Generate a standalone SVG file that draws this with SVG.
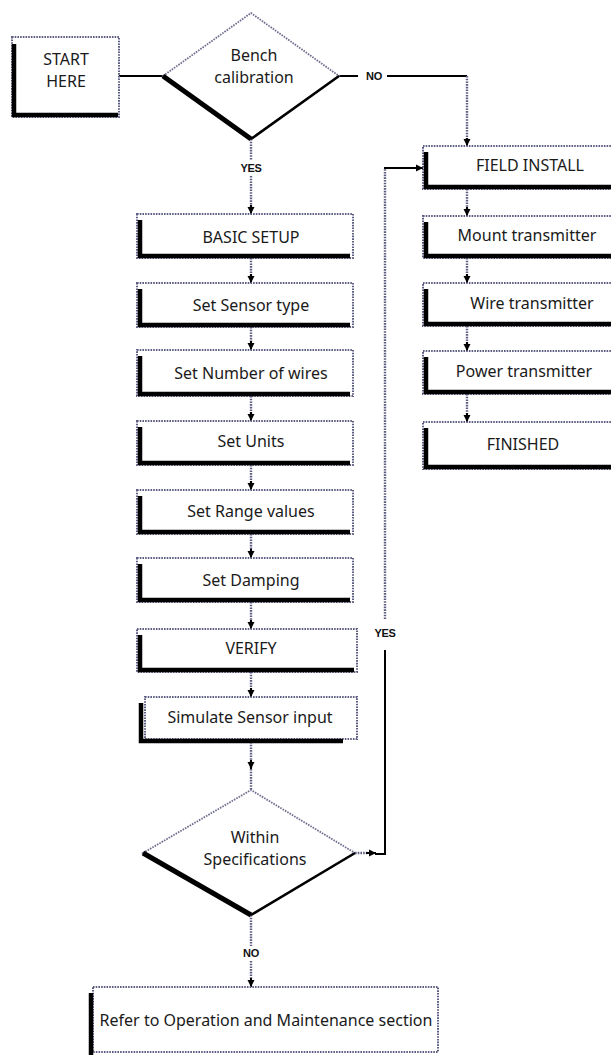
<svg xmlns="http://www.w3.org/2000/svg" width="611" height="1055" viewBox="0 0 611 1055">
<style>
.box{fill:#fff;stroke:#5e5e82;stroke-width:2;stroke-dasharray:1.6 1.1}
.sh{fill:none;stroke:#000;stroke-width:4.5}
.dia{fill:#fff;stroke:#6e6e8e;stroke-width:1.8;stroke-dasharray:1.6 1.1}
.dot{fill:none;stroke:#5e5e82;stroke-width:2.4;stroke-dasharray:1.6 1.1}
.sol{fill:none;stroke:#000;stroke-width:2}
.t{font-family:"Noto Sans","Open Sans",sans-serif;font-size:16px;fill:#1a1a1a;text-anchor:middle;dominant-baseline:central}
.lbl{font-family:"Liberation Sans",Arial,sans-serif;font-weight:bold;font-size:11px;fill:#111;text-anchor:middle;dominant-baseline:central;letter-spacing:-0.3px}
</style>
<defs>
<marker id="ah" markerUnits="userSpaceOnUse" markerWidth="8" markerHeight="8" refX="7" refY="4" orient="auto">
<path d="M0,0.5 L7,4 L0,7.5 z" fill="#000"/>
</marker>
</defs>

<g id="connectors">
<path class="sol" d="M119,76 H163"/>
<path class="sol" d="M339,76 H358"/>
<path class="sol" d="M387,76 H467"/>
<path class="dot" d="M467,76 V140"/>
<path class="sol" d="M467,138 V146" marker-end="url(#ah)"/>
<path class="dot" d="M251,139 V160"/>
<path class="dot" d="M251,176 V207"/>
<path class="sol" d="M251,205 V214" marker-end="url(#ah)"/>
<path class="dot" d="M251,258 V276"/><path class="sol" d="M251,274 V283" marker-end="url(#ah)"/>
<path class="dot" d="M251,327 V343"/><path class="sol" d="M251,341 V350" marker-end="url(#ah)"/>
<path class="dot" d="M251,396 V414"/><path class="sol" d="M251,412 V421" marker-end="url(#ah)"/>
<path class="dot" d="M251,465 V483"/><path class="sol" d="M251,481 V490" marker-end="url(#ah)"/>
<path class="dot" d="M251,534 V551"/><path class="sol" d="M251,549 V558" marker-end="url(#ah)"/>
<path class="dot" d="M251,602 V622"/><path class="sol" d="M251,620 V629" marker-end="url(#ah)"/>
<path class="dot" d="M251,672 V690"/><path class="sol" d="M251,688 V697" marker-end="url(#ah)"/>
<path class="dot" d="M251,742 V790"/><path class="sol" d="M251,760 V769" marker-end="url(#ah)"/>
<path class="dot" d="M251,915 V946"/>
<path class="dot" d="M251,961 V980"/><path class="sol" d="M251,978 V987" marker-end="url(#ah)"/>
<path class="dot" d="M467,189 V209"/><path class="sol" d="M467,207 V216" marker-end="url(#ah)"/>
<path class="dot" d="M467,258 V276"/><path class="sol" d="M467,274 V283" marker-end="url(#ah)"/>
<path class="dot" d="M467,326 V344"/><path class="sol" d="M467,342 V351" marker-end="url(#ah)"/>
<path class="dot" d="M467,394 V415"/><path class="sol" d="M467,413 V422" marker-end="url(#ah)"/>
<path class="dot" d="M355,853 H368"/>
<path class="sol" d="M366,853 H376" marker-end="url(#ah)"/>
<path class="sol" d="M375,854 H385 V650"/>
<path class="dot" d="M385,619 V168"/>
<path class="sol" d="M384,168 H423" marker-end="url(#ah)"/>
<text class="lbl" x="374" y="76">NO</text>
<text class="lbl" x="251" y="168">YES</text>
<text class="lbl" x="385" y="633">YES</text>
<text class="lbl" x="251" y="953">NO</text>
</g>

<g id="start">
<rect class="box" x="12" y="37" width="107" height="80"/>
<path class="sh" d="M14,44 V115 H118"/>
<text class="t" x="66" y="59">START</text>
<text class="t" x="66" y="81">HERE</text>
</g>

<g id="bench">
<path class="dia" d="M163,76 L251,13 L339,76 L251,139 Z"/>
<path d="M163,76 L251,139" stroke="#000" stroke-width="5" fill="none"/>
<path d="M251,139 L339,76" stroke="#000" stroke-width="2.5" fill="none"/>
<text class="t" x="254" y="55">Bench</text>
<text class="t" x="254" y="77">calibration</text>
</g>

<g id="basic"><rect class="box" x="137" y="214" width="216" height="44"/><path class="sh" d="M140,220 V256 H350"/><text class="t" x="251" y="237">BASIC SETUP</text></g>
<g id="sensor"><rect class="box" x="137" y="283" width="216" height="44"/><path class="sh" d="M140,289 V325 H350"/><text class="t" x="251" y="305">Set Sensor type</text></g>
<g id="wires"><rect class="box" x="137" y="350" width="216" height="46"/><path class="sh" d="M140,356 V394 H350"/><text class="t" x="251" y="373">Set Number of wires</text></g>
<g id="units"><rect class="box" x="137" y="421" width="216" height="44"/><path class="sh" d="M140,427 V463 H350"/><text class="t" x="251" y="441">Set Units</text></g>
<g id="range"><rect class="box" x="137" y="490" width="216" height="44"/><path class="sh" d="M140,496 V532 H350"/><text class="t" x="251" y="511">Set Range values</text></g>
<g id="damping"><rect class="box" x="137" y="558" width="216" height="44"/><path class="sh" d="M140,564 V600 H350"/><text class="t" x="251" y="580">Set Damping</text></g>
<g id="verify"><rect class="box" x="137" y="629" width="220" height="43"/><path class="sh" d="M140,635 V670 H354"/><text class="t" x="251" y="648">VERIFY</text></g>
<g id="simulate"><rect class="box" x="145" y="697" width="212" height="42"/><path class="sh" d="M141,703 V741 H343"/><text class="t" x="250" y="717">Simulate Sensor input</text></g>

<g id="within">
<path class="dia" d="M143,853 L251,790 L355,853 L251,915 Z"/>
<path d="M143,853 L251,915" stroke="#000" stroke-width="5" fill="none"/>
<path d="M251,915 L355,853" stroke="#000" stroke-width="2.5" fill="none"/>
<text class="t" x="255" y="837">Within</text>
<text class="t" x="255" y="859">Specifications</text>
</g>

<g id="refer"><rect class="box" x="93" y="987" width="345" height="65"/><path class="sh" d="M91,993 V1055"/><text class="t" x="266" y="1020">Refer to Operation and Maintenance section</text></g>

<g id="field"><rect class="box" x="423" y="146" width="200" height="43"/><path class="sh" d="M426,152 V187 H620"/><text class="t" x="530" y="165">FIELD INSTALL</text></g>
<g id="mount"><rect class="box" x="423" y="216" width="200" height="42"/><path class="sh" d="M426,222 V256 H620"/><text class="t" x="527" y="235">Mount transmitter</text></g>
<g id="wire"><rect class="box" x="423" y="283" width="200" height="43"/><path class="sh" d="M426,289 V324 H620"/><text class="t" x="532" y="303">Wire transmitter</text></g>
<g id="power"><rect class="box" x="423" y="351" width="200" height="43"/><path class="sh" d="M426,357 V392 H620"/><text class="t" x="524" y="371">Power transmitter</text></g>
<g id="finished"><rect class="box" x="423" y="422" width="200" height="47"/><path class="sh" d="M426,428 V467 H620"/><text class="t" x="523" y="444">FINISHED</text></g>
</svg>
